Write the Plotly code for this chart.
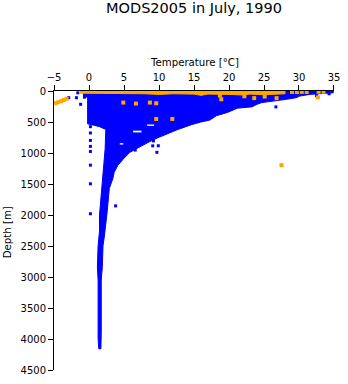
import plotly.graph_objects as go

# ---- outline of the dense cloud of profile samples (temperature [degC], depth [m]) ----
cloud_temp = [-1.0, 34.9, 34.9, 31.5, 30.1, 29.6, 28.2, 25.9, 24.7, 24.0, 23.3, 21.2,
              19.8, 18.2, 17.3, 15.9, 14.7, 12.6, 11.2, 9.8, 8.4, 7.0, 5.8, 4.9, 4.1,
              3.6, 3.4, 2.9, 2.8, 2.6, 2.2, 2.0, 1.9, 1.75, 1.75, 1.7,
              1.4, 1.3, 1.3, 1.2, 1.3, 1.5, 1.5, 1.7, 1.9, 2.1, 2.3, 2.4, 1.5, 0.8,
              -0.2, -0.2, -0.8, -0.8]
cloud_depth = [0, 0, 29, 55, 82, 108, 134, 161, 187, 214, 256, 277,
               345, 398, 467, 503, 541, 625, 688, 756, 832, 911, 991, 1097, 1203,
               1310, 1416, 1571, 1729, 1943, 2339, 2497, 2840, 3050, 3896, 4158,
               4158, 4000, 3050, 2840, 2497, 2260, 1997, 1733, 1468, 1203, 941, 620, 575, 555,
               530, 100, 90, 20]

# gaps inside the cloud
holes = [
    ([6.3, 7.5, 7.5, 6.3], [640, 640, 668, 668]),
    ([8.3, 9.3, 9.3, 8.3], [540, 540, 562, 562]),
    ([4.4, 4.9, 4.9, 4.4], [842, 842, 864, 864]),
]

# isolated blue samples
blue_temp = [-2.9, -1.8, -1.6, -1.2, -0.65, 0.1, 0.2, 0.2, 0.2, 0.2, 0.2, 0.2, 0.2, 0.2,
             3.8, 9.2, 9.1, 9.9, 9.7, 6.6, 26.7, 32.5, 34.3]
blue_depth = [108, 108, 30, 214, 100, 182, 575, 677, 797, 893, 975, 1196, 1497, 1980,
              1853, 805, 885, 883, 989, 953, 256, 75, 45]

# near-surface band of the second data set
band_temp = [-1.3, 28.0, 28.0, 26.5, 25.0, 23.0, 22.0, 20.0, 17.0, 16.0, 15.0, 12.0,
             10.0, 8.0, 5.0, 2.0, -1.3]
band_depth = [-20, -20, 45, 50, 60, 50, 65, 55, 50, 70, 50, 45,
              55, 45, 42, 45, 35]

# isolated orange samples
orange_temp = [-4.8, -4.4, -4.0, -3.6, -3.2, 4.9, 6.7, 8.7, 9.6, 9.6, 11.9, 18.7, 18.9,
               22.2, 23.6, 25.1, 26.8, 32.7, 27.5, 29.0, 29.7, 30.4, 31.1, 32.8, 33.5]
orange_depth = [195, 180, 165, 145, 125, 187, 203, 187, 198, 451, 451, 75, 134,
                85, 115, 90, 115, 103, 1196, 15, 15, 15, 15, 12, 12]

BLUE = "#0000ff"
ORANGE = "#ffa500"
FONT = "DejaVu Sans"

fig = go.Figure()

fig.add_trace(go.Scatter(x=cloud_temp, y=cloud_depth, mode="lines", fill="toself",
                         fillcolor=BLUE, line=dict(color=BLUE, width=1),
                         hoverinfo="skip", showlegend=False))
for ht, hd in holes:
    fig.add_trace(go.Scatter(x=ht, y=hd, mode="lines", fill="toself",
                             fillcolor="white", line=dict(color="white", width=0),
                             hoverinfo="skip", showlegend=False))
fig.add_trace(go.Scatter(x=blue_temp, y=blue_depth, mode="markers",
                         marker=dict(symbol="square", size=3, color=BLUE),
                         showlegend=False))
fig.add_trace(go.Scatter(x=band_temp, y=band_depth, mode="lines", fill="toself",
                         fillcolor=ORANGE, line=dict(color=ORANGE, width=1),
                         hoverinfo="skip", showlegend=False))
fig.add_trace(go.Scatter(x=orange_temp, y=orange_depth, mode="markers",
                         marker=dict(symbol="square", size=4, color=ORANGE),
                         cliponaxis=False, showlegend=False))

W, H = 348, 384
L, R, T, B = 54.3, 8.0, 90.5, 9.0
plot_h = H - T - B

fig.update_layout(
    width=W, height=H,
    margin=dict(l=L, r=R, t=T, b=B, pad=0),
    paper_bgcolor="white", plot_bgcolor="white",
    font=dict(family=FONT, size=10, color="black"),
    title=dict(text="MODS2005 in July, 1990", x=0.5, xref="paper",
               y=1 - 8 / H, yref="container", xanchor="center", yanchor="middle",
               font=dict(family=FONT, size=14.5, color="black")),
    xaxis=dict(range=[-5.001, 35.001], side="top",
               tickmode="array", tickvals=[-5, 0, 5, 10, 15, 20, 25, 30, 35],
               ticklabeloverflow="allow",
               ticks="outside", ticklen=5, tickwidth=1, tickcolor="black",
               showline=True, linecolor="black", linewidth=1,
               showgrid=False, zeroline=False,
               tickfont=dict(family=FONT, size=10, color="black")),
    yaxis=dict(range=[4500, 0], dtick=500, tick0=0,
               ticks="outside", ticklen=5, tickwidth=1, tickcolor="black",
               showline=True, linecolor="black", linewidth=1,
               showgrid=False, zeroline=False,
               tickfont=dict(family=FONT, size=10, color="black")),
    annotations=[
        dict(text="Temperature [°C]", xref="paper", yref="paper",
             x=0.5, y=(H - B - 61) / plot_h, xanchor="center", yanchor="middle",
             showarrow=False, font=dict(family=FONT, size=10.2, color="black")),
        dict(text="Depth [m]", xref="paper", yref="paper",
             x=-(L - 7) / (W - L - R), y=(H - B - 235) / plot_h,
             xanchor="center", yanchor="middle", textangle=-90,
             showarrow=False, font=dict(family=FONT, size=10.2, color="black")),
    ],
)

fig.write_html("out.html")
